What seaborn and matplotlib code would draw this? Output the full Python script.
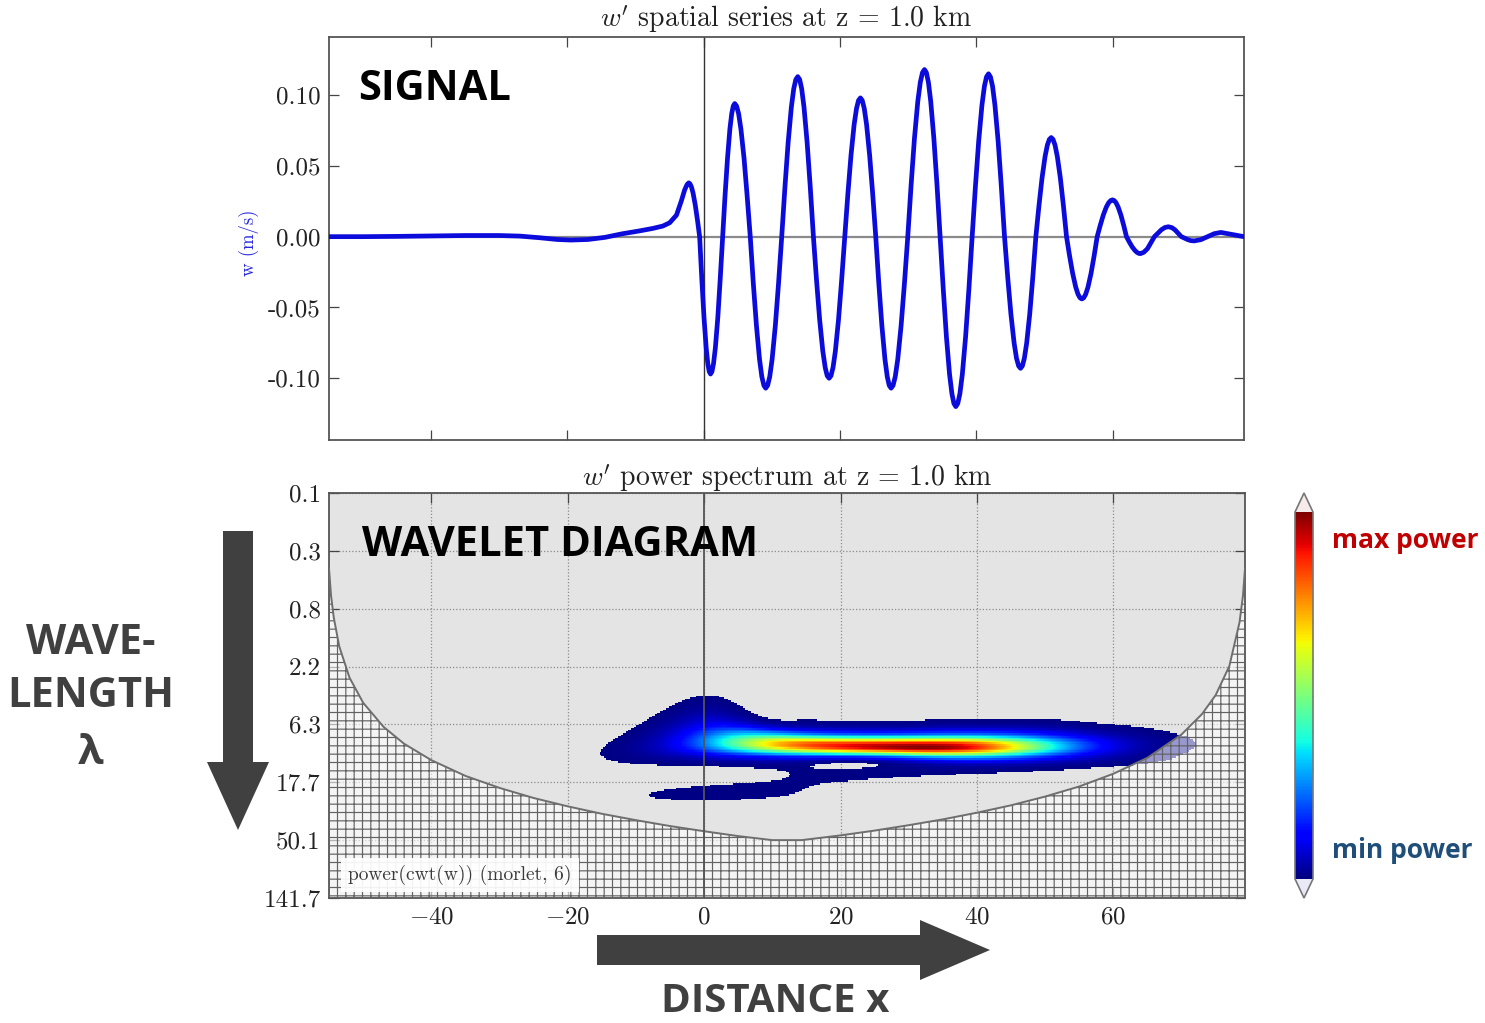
import numpy as np
import matplotlib
matplotlib.use("Agg")
import matplotlib.pyplot as plt
import seaborn as sns
from matplotlib.patches import Polygon
from matplotlib.colors import Normalize
from matplotlib.ticker import NullLocator

# ---------------- data ----------------
sig_x = [-55.0, -50.0, -45.0, -40.0, -35.0, -30.0, -27.0, -24.0, -21.5, -19.5, -17.0, -14.5, -12.0, -9.5, -7.5, -6.0,
         -5.0, -4.0, -3.3, -2.8, -2.45, -2.2,
         -2.01, -1.8, -1.56, -1.24, -0.92, -0.6, -0.28, 0.04, 0.36, 0.6, 0.81, 1.0,
         1.21, 1.44, 1.71, 2.07, 2.42, 2.78, 3.13, 3.49, 3.84, 4.11, 4.34, 4.55,
         4.82, 5.12, 5.46, 5.92, 6.37, 6.83, 7.28, 7.74, 8.19, 8.53, 8.83, 9.1,
         9.38, 9.69, 10.04, 10.51, 10.98, 11.45, 11.92, 12.39, 12.86, 13.21, 13.52, 13.8,
         14.08, 14.38, 14.72, 15.18, 15.64, 16.1, 16.56, 17.02, 17.48, 17.83, 18.12, 18.4,
         18.68, 18.98, 19.32, 19.78, 20.24, 20.7, 21.16, 21.62, 22.08, 22.43, 22.72, 23.0,
         23.27, 23.56, 23.9, 24.35, 24.8, 25.25, 25.7, 26.15, 26.6, 26.94, 27.23, 27.5,
         27.79, 28.11, 28.48, 28.97, 29.46, 29.95, 30.44, 30.93, 31.42, 31.79, 32.11, 32.4,
         32.68, 32.98, 33.32, 33.78, 34.24, 34.7, 35.16, 35.62, 36.08, 36.43, 36.72, 37.0,
         37.29, 37.6, 37.96, 38.44, 38.92, 39.4, 39.88, 40.36, 40.84, 41.2, 41.51, 41.8,
         42.08, 42.39, 42.74, 43.21, 43.68, 44.15, 44.62, 45.09, 45.56, 45.91, 46.22, 46.5,
         46.77, 47.06, 47.4, 47.85, 48.3, 48.75, 49.2, 49.65, 50.1, 50.44, 50.73, 51.0,
         51.27, 51.56, 51.9, 52.35, 52.8, 53.25, 53.7, 54.15, 54.6, 54.94, 55.23, 55.5,
         55.77, 56.06, 56.4, 56.85, 57.3, 57.75, 58.2, 58.65, 59.1, 59.44, 59.73, 60.0,
         60.25, 60.51, 60.82, 61.23, 61.64, 62.05, 62.46, 62.87, 63.28, 63.59, 63.85, 64.1,
         64.6, 65.13, 66.15, 67.18, 67.7, 68.2,
         68.7, 69.15, 70.1, 71.05, 71.5, 72.0,
         72.98, 73.95, 74.93, 75.9,
         77.6, 79.3]
sig_w = [0.0, 0.0, 0.0002, 0.0005, 0.0008, 0.0008, 0.0004, -0.0008, -0.0020, -0.0024, -0.0020, -0.0005, 0.0020, 0.0040, 0.0058, 0.0075,
         0.0098, 0.0152, 0.0250, 0.0330, 0.0368, 0.0380,
         0.0373, 0.0351, 0.0307, 0.0223, 0.0117, 0.0, -0.0300, -0.0570, -0.0785, -0.0896, -0.0953, -0.097,
         -0.0953, -0.0896, -0.0785, -0.0570, -0.0300, 0.0, 0.0290, 0.0553, 0.0760, 0.0869, 0.0923, 0.094,
         0.0923, 0.0869, 0.0760, 0.0553, 0.0290, 0.0, -0.0331, -0.0629, -0.0866, -0.0989, -0.1051, -0.107,
         -0.1051, -0.0989, -0.0866, -0.0629, -0.0331, 0.0, 0.0349, 0.0664, 0.0914, 0.1044, 0.1110, 0.113,
         0.1110, 0.1044, 0.0914, 0.0664, 0.0349, 0.0, -0.0309, -0.0588, -0.0809, -0.0924, -0.0982, -0.100,
         -0.0982, -0.0924, -0.0809, -0.0588, -0.0309, 0.0, 0.0303, 0.0576, 0.0793, 0.0906, 0.0962, 0.098,
         0.0962, 0.0906, 0.0793, 0.0576, 0.0303, 0.0, -0.0331, -0.0629, -0.0866, -0.0989, -0.1051, -0.107,
         -0.1051, -0.0989, -0.0866, -0.0629, -0.0331, 0.0, 0.0365, 0.0694, 0.0955, 0.1090, 0.1159, 0.118,
         0.1159, 0.1090, 0.0955, 0.0694, 0.0365, 0.0, -0.0371, -0.0706, -0.0971, -0.1109, -0.1178, -0.120,
         -0.1178, -0.1109, -0.0971, -0.0706, -0.0371, 0.0, 0.0355, 0.0676, 0.0930, 0.1063, 0.1129, 0.115,
         0.1129, 0.1063, 0.0930, 0.0676, 0.0355, 0.0, -0.0287, -0.0547, -0.0752, -0.0859, -0.0913, -0.093,
         -0.0913, -0.0859, -0.0752, -0.0547, -0.0287, 0.0, 0.0216, 0.0412, 0.0566, 0.0647, 0.0687, 0.070,
         0.0687, 0.0647, 0.0566, 0.0412, 0.0216, 0.0, -0.0136, -0.0259, -0.0356, -0.0407, -0.0432, -0.044,
         -0.0432, -0.0407, -0.0356, -0.0259, -0.0136, 0.0, 0.0080, 0.0153, 0.0210, 0.0240, 0.0255, 0.026,
         0.0255, 0.0240, 0.0210, 0.0153, 0.0080, 0.0, -0.0037, -0.0071, -0.0097, -0.0111, -0.0118, -0.012,
         -0.0110, -0.0085, 0.0, 0.0049, 0.0065, 0.007,
         0.0064, 0.0049, 0.0, -0.0021, -0.0028, -0.003,
         -0.0021, 0.0, 0.0021, 0.003,
         0.0015, 0.0]

# cone of influence (wavelength, km)
coi_x = [-55.0, -54.7, -54.3, -53.5, -52.0, -50.0, -47.0, -44.0, -40.0, -35.0, -30.0, -25.0, -20.0, -15.0,
         -10.0, -5.0, 0.0, 5.0, 10.0, 14.3, 20.0, 25.0, 30.0, 35.0, 40.0, 45.0, 50.0, 55.0, 60.0, 65.0,
         70.0, 73.0, 75.0, 77.0, 78.5, 79.0, 79.3]
coi_lam = [0.38, 0.62, 0.92, 1.54, 2.70, 4.24, 6.55, 8.86, 11.9, 15.8, 19.6, 23.5, 27.3, 31.2,
           35.0, 38.9, 42.7, 46.6, 50.1, 50.1, 46.0, 42.2, 38.3, 34.5, 30.6, 26.8, 22.9, 19.1, 15.2, 11.4,
           7.5, 5.2, 3.7, 2.2, 1.0, 0.62, 0.38]

x_ticks = [-40, -20, 0, 20, 40, 60]
x_ticklabels = [r"$-40$", r"$-20$", r"$0$", r"$20$", r"$40$", r"$60$"]
w_ticks = [-0.10, -0.05, 0.0, 0.05, 0.10]
w_ticklabels = ["-0.10", "-0.05", "0.00", "0.05", "0.10"]
lam_ticks = [0.098, 0.277, 0.783, 2.215, 6.265, 17.72, 50.1, 141.7]
lam_ticklabels = ["0.1", "0.3", "0.8", "2.2", "6.3", "17.7", "50.1", "141.7"]

omega0 = 6.0          # morlet parameter
power_threshold = 0.0046

# ---------------- style ----------------
sns.set_style("ticks")
plt.rcParams["font.family"] = ["cmr10", "DejaVu Serif"]
plt.rcParams["mathtext.fontset"] = "cm"
plt.rcParams["axes.unicode_minus"] = False
plt.rcParams["axes.formatter.use_mathtext"] = True
plt.rcParams["hatch.linewidth"] = 0.85

W_, H_ = 1485, 1023
fig = plt.figure(figsize=(W_ / 100, H_ / 100), dpi=100)


def fx(px):
    return px / W_


def fy(py):
    return 1 - py / H_


ax1 = fig.add_axes([fx(329), fy(440), (1244 - 329) / W_, (440 - 37) / H_])
ax2 = fig.add_axes([fx(329), fy(898), (1245 - 329) / W_, (898 - 493) / H_])
cax = fig.add_axes([fx(1295), fy(898), 18 / W_, (898 - 493) / H_])

TICK_FS = 18
# ---------------- top panel ----------------
ax1.axhline(0, color="#8a8a8a", lw=1.6, zorder=1)
ax1.axvline(0, color="#333333", lw=1.0, zorder=1)
sns.lineplot(x=sig_x, y=sig_w, sort=False, color="#0b0bdc", lw=3.4, ax=ax1, zorder=3,
             solid_joinstyle="round", solid_capstyle="round")
ax1.set_xlim(-55, 79.3)
ax1.set_ylim(-0.1436, 0.141)
ax1.set_xticks(x_ticks)
ax1.set_xticklabels([])
ax1.set_yticks(w_ticks)
ax1.set_yticklabels(w_ticklabels, fontsize=TICK_FS)
ax1.tick_params(direction="in", top=True, right=True, length=7, width=0.9, color="#444444",
                labelcolor="#222222", pad=6)
ax1.set_ylabel("w (m/s)", color="#2626e0", fontsize=13.5)
ax1.yaxis.set_label_coords(-0.0765, 0.49)
ax1.set_title(r"$w'$ spatial series at z = 1.0 km", fontsize=20, pad=7, color="#222222")
for sp in ax1.spines.values():
    sp.set_color("#555555")
    sp.set_linewidth(1.3)

# ---------------- continuous wavelet transform (morlet) ----------------
dt = 0.1
xu = np.arange(sig_x[0], sig_x[-1] + dt / 2, dt)
wu = np.interp(xu, sig_x, sig_w)
n = len(xu)
npad = int(2 ** np.ceil(np.log2(n)) * 2)
wpad = np.zeros(npad)
wpad[:n] = wu - wu.mean()
k = 2 * np.pi * np.fft.fftfreq(npad, dt)
ff = 4 * np.pi / (omega0 + np.sqrt(2 + omega0 ** 2))
lam = np.geomspace(lam_ticks[0], lam_ticks[-1], 260)
scales = lam / ff
fw = np.fft.fft(wpad)
power = np.empty((len(scales), n))
for i, s in enumerate(scales):
    psi = np.pi ** -0.25 * np.sqrt(2 * np.pi * s / dt) * np.exp(-0.5 * (s * k - omega0) ** 2) * (k > 0)
    power[i] = np.abs(np.fft.ifft(fw * psi)[:n]) ** 2
pnorm = power / power.max()
pmask = np.ma.masked_less(pnorm, power_threshold)

# ---------------- bottom panel ----------------
cmap = plt.get_cmap("jet").copy()
cmap.set_over("#f6eaea")
cmap.set_under("#eaeaf6")
ax2.set_facecolor("#e4e4e4")
ax2.set_yscale("log")
mesh = ax2.pcolormesh(xu, lam, pmask, cmap=cmap, norm=Normalize(0, 1), shading="nearest",
                      rasterized=True, zorder=2)
ax2.fill_between(coi_x, coi_lam, 400, facecolor=(1, 1, 1, 0.6), edgecolor="none", zorder=2.5)
ax2.fill_between(coi_x, coi_lam, 400, facecolor="none", edgecolor="#626262", hatch="++",
                 linewidth=0, zorder=2.6)
sns.lineplot(x=coi_x, y=coi_lam, sort=False, color="#6e6e6e", lw=1.4, ax=ax2, zorder=3)
ax2.axvline(0, color="#555555", lw=1.3, zorder=4)
ax2.set_xlim(-55, 79.3)
ax2.set_ylim(lam_ticks[-1], lam_ticks[0])
ax2.set_yticks(lam_ticks)
ax2.set_yticklabels(lam_ticklabels, fontsize=TICK_FS)
ax2.yaxis.set_minor_locator(NullLocator())
ax2.set_xticks(x_ticks)
ax2.set_xticklabels(x_ticklabels, fontsize=TICK_FS)
ax2.tick_params(direction="in", top=True, right=True, length=7, width=0.9, color="#444444",
                labelcolor="#222222", pad=6)
ax2.set_axisbelow(True)
ax2.grid(True, which="major", color="#8c8c8c", lw=0.9, ls=(0, (1, 1.6)), zorder=1.5)
ax2.set_xlabel("")
ax2.set_ylabel("")
ax2.set_title(r"$w'$ power spectrum at z = 1.0 km", fontsize=20, pad=5, color="#222222")
ax2.text(0.021, 0.057, "power(cwt(w)) (morlet, 6)", transform=ax2.transAxes, fontsize=14,
         color="#3a3a3a", va="center", ha="left", zorder=6,
         bbox=dict(facecolor="white", edgecolor="none", alpha=0.92, boxstyle="square,pad=0.35"))
for sp in ax2.spines.values():
    sp.set_color("#555555")
    sp.set_linewidth(1.3)

# ---------------- colorbar ----------------
cb = fig.colorbar(mesh, cax=cax, extend="both", extendfrac=0.052)
cb.outline.set_edgecolor("#777777")
cb.outline.set_linewidth(1.2)
cb.set_ticks(np.linspace(0.1, 0.9, 9))
cax.tick_params(labelright=False, length=3, direction="in", color="#444444", width=0.8)

# ---------------- annotations ----------------
ANN = ["Open Sans", "DejaVu Sans"]
DARK = "#404040"
BIG = 30
fig.text(fx(358), fy(100), "SIGNAL", family=ANN, weight="bold", fontsize=BIG, color="black", va="baseline")
fig.text(fx(362), fy(556), "WAVELET DIAGRAM", family=ANN, weight="bold", fontsize=BIG, color="black",
         va="baseline")
fig.text(fx(91), fy(654), "WAVE-", family=ANN, weight="bold", fontsize=BIG, color=DARK, ha="center",
         va="baseline")
fig.text(fx(91), fy(707), "LENGTH", family=ANN, weight="bold", fontsize=BIG, color=DARK, ha="center",
         va="baseline")
fig.text(fx(91), fy(764), "λ", family=ANN, weight="bold", fontsize=BIG, color=DARK, ha="center",
         va="baseline")
fig.text(fx(775), fy(1021), "DISTANCE x", family=ANN, weight="bold", fontsize=BIG - 1, color=DARK,
         ha="center", va="bottom")
fig.text(fx(1332), fy(548), "max power", family=ANN, weight="bold", fontsize=19, color="#c00000",
         va="baseline")
fig.text(fx(1332), fy(858), "min power", family=ANN, weight="bold", fontsize=19, color="#1f4e79",
         va="baseline")


def inch(pts):
    return [(px / 100, (H_ - py) / 100) for px, py in pts]


down_arrow = [(223, 531), (253, 531), (253, 762), (269, 762), (238, 830), (207, 762), (223, 762)]
right_arrow = [(597, 935), (920, 935), (920, 920), (990, 950), (920, 980), (920, 965), (597, 965)]
for shape in (down_arrow, right_arrow):
    fig.add_artist(Polygon(inch(shape), closed=True, transform=fig.dpi_scale_trans,
                           facecolor=DARK, edgecolor="none"))

fig.savefig("out.png", dpi=100)
